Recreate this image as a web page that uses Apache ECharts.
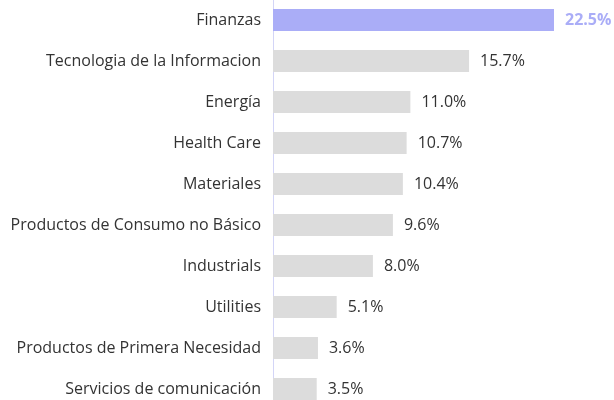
<!DOCTYPE html>
<html>
<head>
<meta charset="utf-8">
<script src="https://cdn.jsdelivr.net/npm/echarts@6/dist/echarts.min.js"></script>
<style>
  html, body { margin: 0; padding: 0; background: #fff; }
  #chart { width: 614px; height: 400px; }
</style>
</head>
<body>
<div id="chart"></div>
<script>
// Sector weights (%), top to bottom
const sectors = [
  'Finanzas',
  'Tecnologia de la Informacion',
  'Energía',
  'Health Care',
  'Materiales',
  'Productos de Consumo no Básico',
  'Industrials',
  'Utilities',
  'Productos de Primera Necesidad',
  'Servicios de comunicación'
];
const weights = [22.5, 15.7, 11.0, 10.7, 10.4, 9.6, 8.0, 5.1, 3.6, 3.5];
const highlighted = 'Finanzas';

const FONT = '"Open Sans"';
const FONT_SIZE = 16;

function draw() {
  const chart = echarts.init(document.getElementById('chart'), null, { renderer: 'canvas' });

  const data = weights.map((v, i) => {
    const hi = sectors[i] === highlighted;
    return {
      value: v,
      itemStyle: { color: hi ? '#aaadf7' : '#dcdcdc' },
      label: hi ? { color: '#aaadf7', fontWeight: 'bold' } : {}
    };
  });

  chart.setOption({
    animation: false,
    grid: { left: 273, right: 60, top: -0.5, height: 410, outerBoundsMode: 'none' },
    xAxis: {
      type: 'value',
      min: 0,
      max: 22.5,
      show: false
    },
    yAxis: {
      type: 'category',
      inverse: true,
      data: sectors,
      axisLine: { show: true, lineStyle: { color: '#d3d5f7', width: 1 } },
      axisTick: { show: false },
      axisLabel: {
        margin: 12,
        color: '#333333',
        fontFamily: FONT,
        fontSize: FONT_SIZE
      }
    },
    series: [{
      type: 'bar',
      data: data,
      barWidth: 22,
      label: {
        show: true,
        position: 'right',
        distance: 11,
        color: '#333333',
        fontFamily: FONT,
        fontSize: FONT_SIZE,
        formatter: p => p.value.toFixed(1) + '%'
      }
    }]
  });
}

// Make sure the face is ready before the canvas measures text
Promise.all([
  document.fonts.load(FONT_SIZE + 'px "Open Sans"'),
  document.fonts.load('bold ' + FONT_SIZE + 'px "Open Sans"')
]).then(draw, draw);
</script>
</body>
</html>
